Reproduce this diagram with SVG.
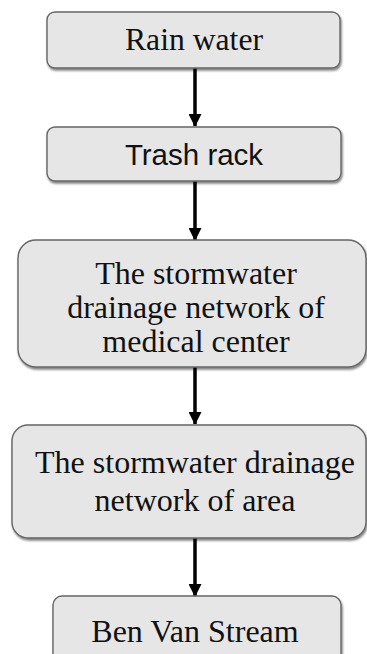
<svg xmlns="http://www.w3.org/2000/svg" width="367" height="654" viewBox="0 0 367 654">
<style>
.box{fill:#e6e6e6;stroke:#666;stroke-width:1.4;filter:url(#sh)}
.serif{font-family:"Liberation Serif","Times New Roman",serif;font-size:32px;fill:#111;text-anchor:middle}
.sans{font-family:"Liberation Sans",Arial,sans-serif;font-size:29.5px;fill:#111;text-anchor:middle}
.conn{stroke:#000;stroke-width:3.5;fill:none;marker-end:url(#ah)}
</style>
<defs>
<filter id="sh" x="-5%" y="-10%" width="110%" height="125%">
<feGaussianBlur in="SourceAlpha" stdDeviation="1"/>
<feOffset dx="0.5" dy="1.5" result="b"/>
<feComponentTransfer><feFuncA type="linear" slope="0.5"/></feComponentTransfer>
<feMerge><feMergeNode/><feMergeNode in="SourceGraphic"/></feMerge>
</filter>
<marker id="ah" viewBox="0 0 12 13" refX="12" refY="6.5" markerWidth="12" markerHeight="13" markerUnits="userSpaceOnUse" orient="auto">
<path d="M0,0 L13,6.5 L0,13 Z" fill="#000"/>
</marker>
</defs>
<g id="connectors">
<line class="conn" x1="195" y1="68" x2="195" y2="126"/>
<line class="conn" x1="195" y1="181" x2="195" y2="240"/>
<line class="conn" x1="195" y1="367" x2="195" y2="424"/>
<line class="conn" x1="195" y1="538" x2="195" y2="596"/>
</g>
<g id="n1">
<rect class="box" x="47" y="12" width="293" height="56" rx="8"/>
<text class="serif" x="194" y="50" font-size="28" textLength="138" lengthAdjust="spacingAndGlyphs">Rain water</text>
</g>
<g id="n2">
<rect class="box" x="47" y="127" width="294" height="54" rx="8"/>
<text class="sans" x="194" y="165">Trash rack</text>
</g>
<g id="n3">
<rect class="box" x="18" y="240" width="348" height="127" rx="18"/>
<text class="serif" x="196" y="284">The stormwater</text>
<text class="serif" x="196" y="318">drainage network of</text>
<text class="serif" x="196" y="352">medical center</text>
</g>
<g id="n4">
<rect class="box" x="12" y="425" width="354" height="113" rx="16"/>
<text class="serif" x="195" y="473">The stormwater drainage</text>
<text class="serif" x="195" y="511">network of area</text>
</g>
<g id="n5">
<rect class="box" x="53" y="596" width="288" height="80" rx="9"/>
<text class="serif" x="195" y="642" font-size="32.5">Ben Van Stream</text>
</g>
</svg>
